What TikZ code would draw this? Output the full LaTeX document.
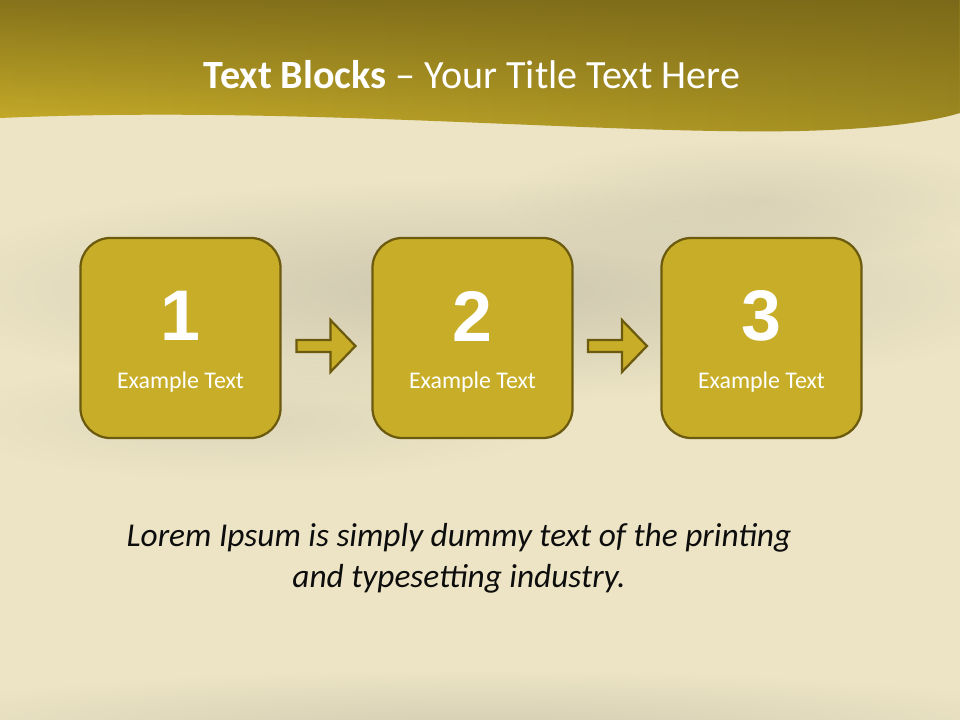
\documentclass[tikz,border=0pt]{standalone}
\usepackage{fontspec}
\setmainfont{Carlito}
\newfontfamily\numfont{Liberation Sans}
\usetikzlibrary{positioning,calc,fadings}
\definecolor{paper}{HTML}{ECE4C4}
\definecolor{smudge}{HTML}{A8A496}
\definecolor{goldlight}{HTML}{CCB12A}
\definecolor{goldmid}{HTML}{A28D22}
\definecolor{golddark}{HTML}{6E5E16}
\definecolor{boxgold}{HTML}{C8AE28}
\definecolor{boxline}{HTML}{6C5A0E}
\tikzfading[name=softblob, inner color=transparent!0, outer color=transparent!100]
\tikzfading[name=topdark, top color=transparent!0, bottom color=transparent!100]

\begin{document}
\begin{tikzpicture}[
  x=0.025cm, y=-0.025cm,
  stepbox/.style={draw=boxline, line width=1.6pt, fill=boxgold,
                  rounded corners=0.75cm, minimum width=5cm, minimum height=5cm},
  numtxt/.style={font=\numfont\bfseries\fontsize{51}{51}\selectfont, text=white},
  captxt/.style={font=\fontsize{17}{19}\selectfont, text=white},
  blockarr/.style={draw=boxline, line width=1.6pt, fill=boxgold, line join=miter}
]
\useasboundingbox (0,0) rectangle (960,720);

%% paper background
\fill[paper] (0,0) rectangle (960,720);
\fill[smudge, opacity=0.45, path fading=softblob] (480,290) ellipse (560 and 110);
\fill[smudge, opacity=0.25, path fading=softblob] (760,200) ellipse (260 and 60);
\fill[smudge, opacity=0.2, path fading=softblob] (250,420) ellipse (300 and 60);
\fill[smudge, opacity=0.35, path fading=softblob] (480,730) ellipse (620 and 60);

%% title band
\def\bandpath{(0,0) -- (960,0) -- (960,113)
  .. controls (930,122) and (880,129) .. (800,131)
  .. controls (600,135) and (300,105) .. (0,118) -- cycle}
\shade[left color=goldlight, right color=goldmid] \bandpath;
\fill[golddark, opacity=0.75, path fading=topdark] \bandpath;
\node[text=white, font=\fontsize{28.5}{32}\selectfont] (title) at (472,75)
  {\textbf{Text Blocks} -- Your Title Text Here};

%% steps
\node[stepbox] (b1) at (180.5,338) {};
\node[stepbox] (b2) at (472.5,338) {};
\node[stepbox] (b3) at (761.5,338) {};

\foreach \i in {1,2,3} {
  \node[numtxt] (n\i) at ($(b\i.center)+(0,-22)$) {\i};
  \node[captxt] (t\i) at ($(b\i.center)+(0,44)$) {Example Text};
}

%% block arrows between steps
\foreach \a/\b in {b1/b2, b2/b3}
  \draw[blockarr] ($(\a.east)!0.165!(\b.west)+(0,2)$) -- ++(34,0) -- ++(0,-20)
    -- ++(25,26) -- ++(-25,26) -- ++(0,-20) -- ++(-34,0) -- cycle;

%% footer text
\node[align=center, text=black!95, font=\itshape\fontsize{23.7}{29}\selectfont] (lorem) at (459,558)
  {Lorem Ipsum is simply dummy text of the printing\\and typesetting industry.};

\end{tikzpicture}
\end{document}
